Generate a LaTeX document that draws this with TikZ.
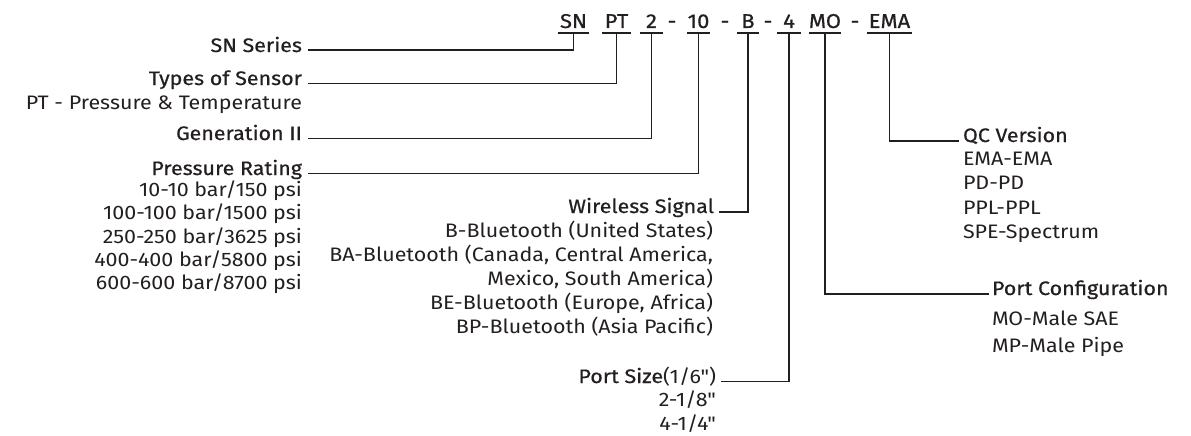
\documentclass[tikz,border=0pt]{standalone}
\usepackage{fontspec}
\setmainfont[FakeStretch=1.1]{Fira Sans}
\newfontfamily\regfont[FakeStretch=1.1]{Fira Sans}
\newfontfamily\medfont[FakeBold=0.6,FakeStretch=1.1]{Fira Sans}
\definecolor{ink}{HTML}{231F20}
\begin{document}
\begin{tikzpicture}[x=1pt,y=-1pt,
  lab/.style={inner sep=0pt, outer sep=0pt, text=ink, font=\regfont\fontsize{19.5}{23.3}\selectfont},
  head/.style={inner sep=0pt, outer sep=0pt, text=ink, font=\medfont\fontsize{19.5}{23.3}\selectfont},
  code/.style={inner sep=0pt, outer sep=0pt, text=ink, anchor=base, font=\medfont\fontsize{20}{20}\selectfont},
  conn/.style={draw=ink, line width=1.4pt},
]
\useasboundingbox (0,0) rectangle (1191,436);
\coordinate (ul) at (0,33);
% code letters
\node[code, minimum width=31] (cSN) at (573.5,28) {SN};
\node[code, minimum width=29] (cPT) at (616.5,28) {PT};
\node[code, minimum width=23] (c2) at (651.5,28) {2};
\node[code] (h1) at (672,28) {-};
\node[code, minimum width=23] (c10) at (698.5,28) {10};
\node[code] (h2) at (725,28) {-};
\node[code, minimum width=22] (cB) at (748,28) {B};
\node[code] (h3) at (768,28) {-};
\node[code, minimum width=24] (c4) at (789,28) {4};
\node[code, minimum width=30] (cMO) at (825,28) {MO};
\node[code] (h4) at (855,28) {-};
\node[code, minimum width=45] (cEMA) at (889.5,28) {EMA};
\foreach \c in {cSN,cPT,c2,c10,cB,c4,cMO,cEMA}
  \draw[conn] (\c.west|-ul) -- (\c.east|-ul);
% left column
\node[head, anchor=base east] (sn) at (302,52) {SN Series};
\node[head, anchor=base east] (ts) at (302,85) {Types of Sensor};
\node[lab, anchor=base east] (pt) at (302,110) {PT - Pressure \& Temperature};
\node[head, anchor=base east] (gen) at (302,140) {Generation II};
\node[head, anchor=base east] (pr) at (302,175) {Pressure Rating};
\node[lab, anchor=base east, align=right] (prl) at (302,289.7) {10-10 bar/150 psi\\100-100 bar/1500 psi\\250-250 bar/3625 psi\\400-400 bar/5800 psi\\600-600 bar/8700 psi};
\coordinate (snL) at (308,50);
\coordinate (tsL) at (308,83.5);
\coordinate (genL) at (308,138.5);
\coordinate (prL) at (308,173.5);
\draw[conn] (snL) -| (cSN.south|-ul);
\draw[conn] (tsL) -| (cPT.south|-ul);
\draw[conn] (genL) -| (c2.south|-ul);
\draw[conn] (prL) -| (c10.south|-ul);
% wireless
\node[head, anchor=base east] (ws) at (714,213) {Wireless Signal};
\node[lab, anchor=base east, align=right, font=\regfont\fontsize{19.5}{24}\selectfont] (wsl) at (713,333) {B-Bluetooth (United States)\\BA-Bluetooth (Canada, Central America,\\Mexico, South America)\\BE-Bluetooth (Europe, Africa)\\BP-Bluetooth (Asia Pacific)};
\coordinate (wsL) at (719,212);
\draw[conn] (wsL) -| (cB.south|-ul);
% port size
\node[head, anchor=base east] (ps) at (716,383) {Port Size\regfont(1/6")};
\node[lab, anchor=base east, align=right] (psl) at (716,430) {2-1/8"\\4-1/4"};
\coordinate (psL) at (721,381.5);
\draw[conn] (psL) -| (c4.south|-ul);
% QC version
\node[head, anchor=base west] (qc) at (963,142) {QC Version};
\node[lab, anchor=base west, align=left, font=\regfont\fontsize{19.5}{24.5}\selectfont] (qcl) at (963,238.5) {EMA-EMA\\PD-PD\\PPL-PPL\\SPE-Spectrum};
\coordinate (qcL) at (959,141);
\draw[conn] (cEMA.south|-ul) |- (qcL);
% port configuration
\node[head, anchor=base west] (pc) at (992,295) {Port Configuration};
\node[lab, anchor=base west, align=left, font=\regfont\fontsize{19.5}{27}\selectfont] (pcl) at (992,352) {MO-Male SAE\\MP-Male Pipe};
\coordinate (pcL) at (989,294);
\draw[conn] (cMO.south|-ul) |- (pcL);
\end{tikzpicture}
\end{document}
